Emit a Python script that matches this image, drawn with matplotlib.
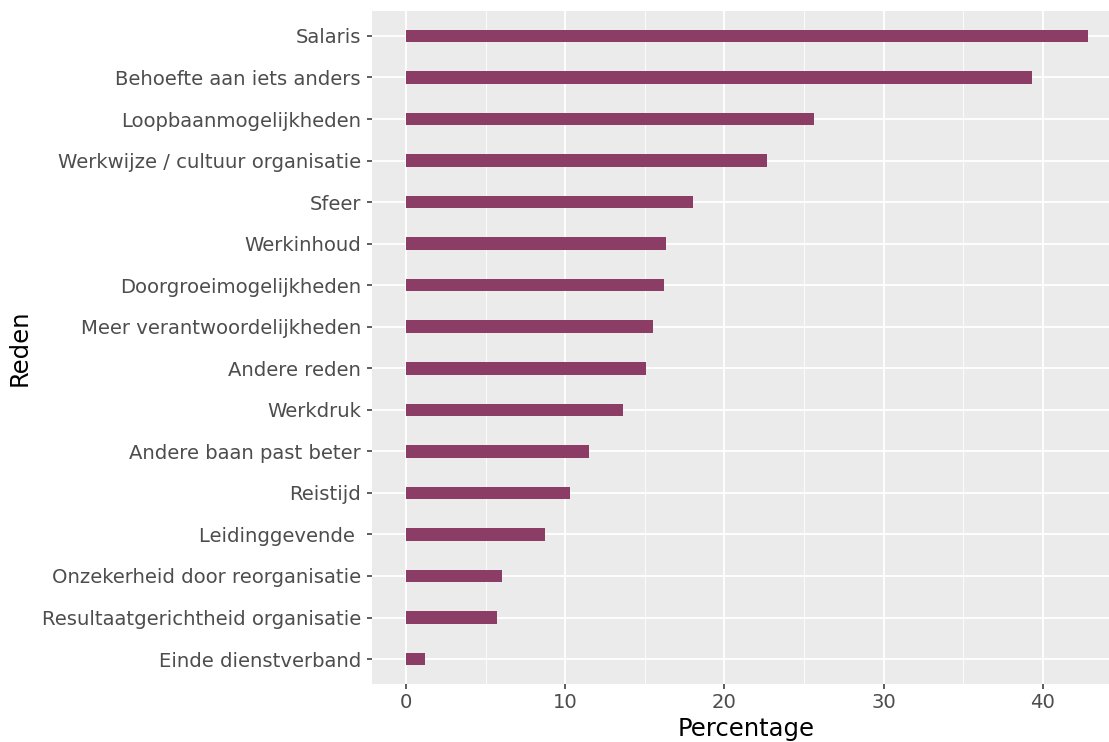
import matplotlib
matplotlib.use("Agg")
import matplotlib.pyplot as plt
from matplotlib.ticker import MultipleLocator

redenen = ["Salaris", "Behoefte aan iets anders", "Loopbaanmogelijkheden",
           "Werkwijze / cultuur organisatie", "Sfeer", "Werkinhoud",
           "Doorgroeimogelijkheden", "Meer verantwoordelijkheden", "Andere reden",
           "Werkdruk", "Andere baan past beter", "Reistijd", "Leidinggevende ",
           "Onzekerheid door reorganisatie", "Resultaatgerichtheid organisatie",
           "Einde dienstverband"]
percentages = [42.8, 39.3, 25.6, 22.7, 18.0, 16.3, 16.2, 15.5, 15.1, 13.6,
               11.5, 10.3, 8.7, 6.0, 5.7, 1.2]

fig = plt.figure(figsize=(11.09, 7.42), dpi=100)
ax = fig.add_axes([372/1109, 1-684/742, (1109-372)/1109, (684-11)/742])
ax.set_facecolor("#EBEBEB")

n = len(redenen)
ypos = list(range(n - 1, -1, -1))
ax.barh(ypos, percentages, height=0.3, color="#8B3D66", zorder=3)

ax.set_yticks(ypos)
ax.set_yticklabels(redenen, fontsize=14.1, color="#4D4D4D")
ax.set_ylim(-0.6, n - 1 + 0.6)
ax.set_xlim(-2.14, 44.15)
ax.xaxis.set_major_locator(MultipleLocator(10))
ax.xaxis.set_minor_locator(MultipleLocator(5))
ax.tick_params(axis="x", labelsize=14.1, labelcolor="#4D4D4D", color="#333333",
               length=3.6, width=1.1, pad=3)
ax.tick_params(axis="y", color="#333333", length=3.6, width=1.1, pad=4.3)
ax.tick_params(axis="x", which="minor", length=0)

ax.grid(True, which="major", color="white", linewidth=1.3, zorder=0)
ax.grid(True, which="minor", axis="x", color="white", linewidth=0.6, zorder=0)
ax.set_axisbelow(True)
for s in ax.spines.values():
    s.set_visible(False)

ax.set_xlabel("Percentage", fontsize=17.5)
ax.set_ylabel("Reden", fontsize=17.5)
ax.xaxis.set_label_coords((746 - 372) / 737, -(729 - 684) / 673)
ax.yaxis.set_label_coords(-(372 - 20) / 737, 0.5)
ax.xaxis.label.set_va("center")
ax.yaxis.label.set_va("center")

fig.savefig("out.png", dpi=100)
